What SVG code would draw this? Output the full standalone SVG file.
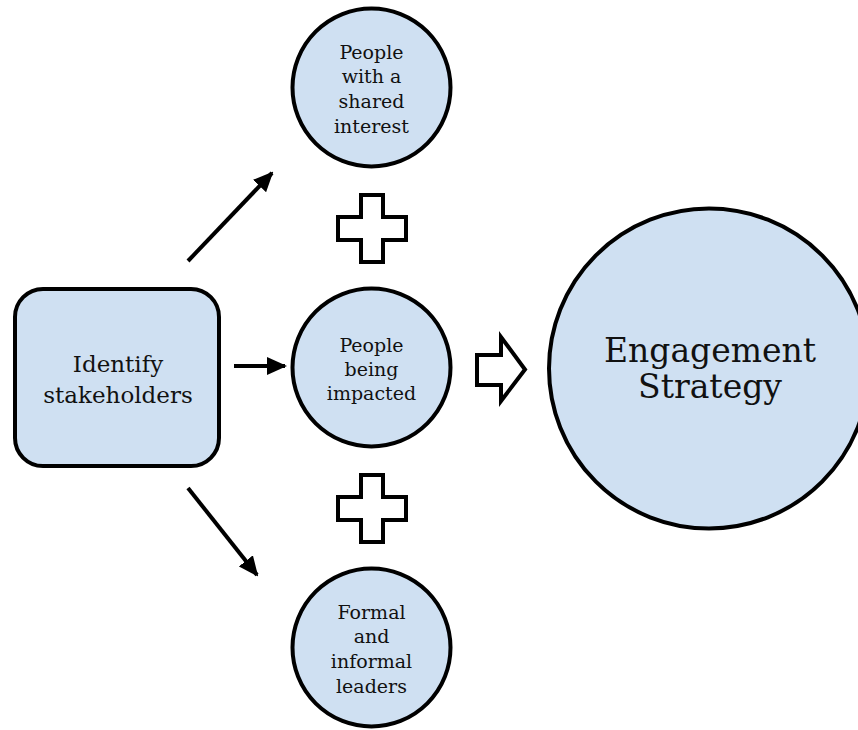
<svg xmlns="http://www.w3.org/2000/svg" width="858" height="730" viewBox="0 0 858 730">
  <defs>
    <style>
      .node { fill: #cfe0f2; stroke: #000; stroke-width: 4; }
      .lbl { font-family: "DejaVu Serif", "Liberation Serif", serif; fill: #111; text-anchor: middle; }
      .sm { font-size: 19px; }
      .md { font-size: 23px; }
      .lg { font-size: 33px; }
      .conn { stroke: #000; stroke-width: 4; fill: none; }
      .hollow { fill: #fff; stroke: #000; stroke-width: 4; stroke-linejoin: miter; }
    </style>
    <marker id="ah" markerUnits="userSpaceOnUse" markerWidth="20" markerHeight="18" refX="18" refY="9" orient="auto">
      <path d="M0,0 L20,9 L0,18 Z" fill="#000"/>
    </marker>
  </defs>
  <rect width="858" height="730" fill="#fff"/>

  <g id="connectors">
    <line class="conn" x1="188" y1="261" x2="272" y2="173" marker-end="url(#ah)"/>
    <line class="conn" x1="234" y1="366" x2="285" y2="366" marker-end="url(#ah)"/>
    <line class="conn" x1="188" y1="488" x2="257" y2="575" marker-end="url(#ah)"/>
    <path id="plus-top" class="hollow" d="M361,195 H383 V217 H406 V240 H383 V262 H361 V240 H338 V217 H361 Z"/>
    <path id="plus-bottom" class="hollow" transform="translate(0,280)" d="M361,195 H383 V217 H406 V240 H383 V262 H361 V240 H338 V217 H361 Z"/>
    <path id="block-arrow" class="hollow" d="M477,355 H501 V337 L525,369.5 L501,401 V385 H477 Z"/>
  </g>

  <g id="identify">
    <rect class="node" x="15" y="289" width="204" height="177" rx="28" ry="28"/>
    <text class="lbl md" x="118" y="372">Identify</text>
    <text class="lbl md" x="118" y="403">stakeholders</text>
  </g>

  <g id="shared-interest">
    <circle class="node" cx="371.5" cy="87.5" r="79"/>
    <text class="lbl sm" x="371.5" y="59">People</text>
    <text class="lbl sm" x="371.5" y="83">with a</text>
    <text class="lbl sm" x="371.5" y="108">shared</text>
    <text class="lbl sm" x="371.5" y="133">interest</text>
  </g>

  <g id="being-impacted">
    <circle class="node" cx="371.5" cy="367.5" r="79"/>
    <text class="lbl sm" x="371.5" y="352">People</text>
    <text class="lbl sm" x="371.5" y="376">being</text>
    <text class="lbl sm" x="371.5" y="400">impacted</text>
  </g>

  <g id="leaders">
    <circle class="node" cx="371.5" cy="647.5" r="79"/>
    <text class="lbl sm" x="371.5" y="619">Formal</text>
    <text class="lbl sm" x="371.5" y="643">and</text>
    <text class="lbl sm" x="371.5" y="668">informal</text>
    <text class="lbl sm" x="371.5" y="693">leaders</text>
  </g>

  <g id="engagement">
    <circle class="node" cx="709" cy="368.5" r="160"/>
    <text class="lbl lg" x="710" y="362">Engagement</text>
    <text class="lbl lg" x="710" y="398">Strategy</text>
  </g>
</svg>
